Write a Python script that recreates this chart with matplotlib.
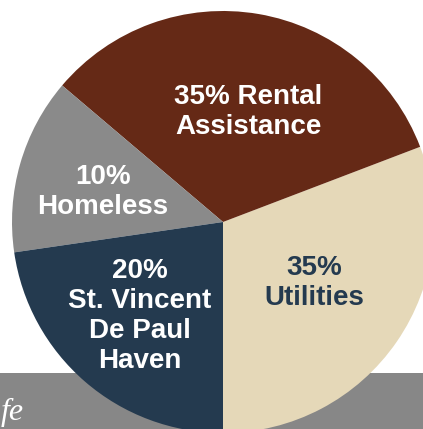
import matplotlib.pyplot as plt
from matplotlib.patches import Rectangle

# wedge shares as drawn, labels as printed
shares = [30.8, 33.0, 13.5, 22.7]
labels = ['35%\nUtilities', '35% Rental\nAssistance', '10%\nHomeless',
          '20%\nSt. Vincent\nDe Paul\nHaven']
colors = ['#E5D8B8', '#652916', '#8A8A8A', '#243A4F']
text_colors = ['#243A4F', 'white', 'white', 'white']
label_pos = [(314, 283), (248, 112), (103, 192), (140, 316)]

W, H = 423, 429
fig = plt.figure(figsize=(W / 100, H / 100), dpi=100)
ax = fig.add_axes([0, 0, 1, 1])

# gray band at the bottom
ax.add_patch(Rectangle((0, 0), W, H - 373, color='#878787', zorder=0, lw=0))
ax.text(1, H - 420, 'fe', color='white', fontsize=23, style='italic',
        family='Liberation Serif', va='baseline', ha='left', zorder=1)

ax.pie(shares, colors=colors, startangle=-90, counterclock=True,
       center=(223, H - 222), radius=211,
       wedgeprops=dict(linewidth=0, zorder=2))

for lab, (x, y), c in zip(labels, label_pos, text_colors):
    ax.text(x, H - y, lab, color=c, fontsize=20, fontweight='bold',
            family='Liberation Sans', ha='center', va='center',
            linespacing=1.2, zorder=3)

ax.set_xlim(0, W)
ax.set_ylim(0, H)
ax.set_aspect('equal')
ax.axis('off')
fig.savefig('out.png', dpi=100)
